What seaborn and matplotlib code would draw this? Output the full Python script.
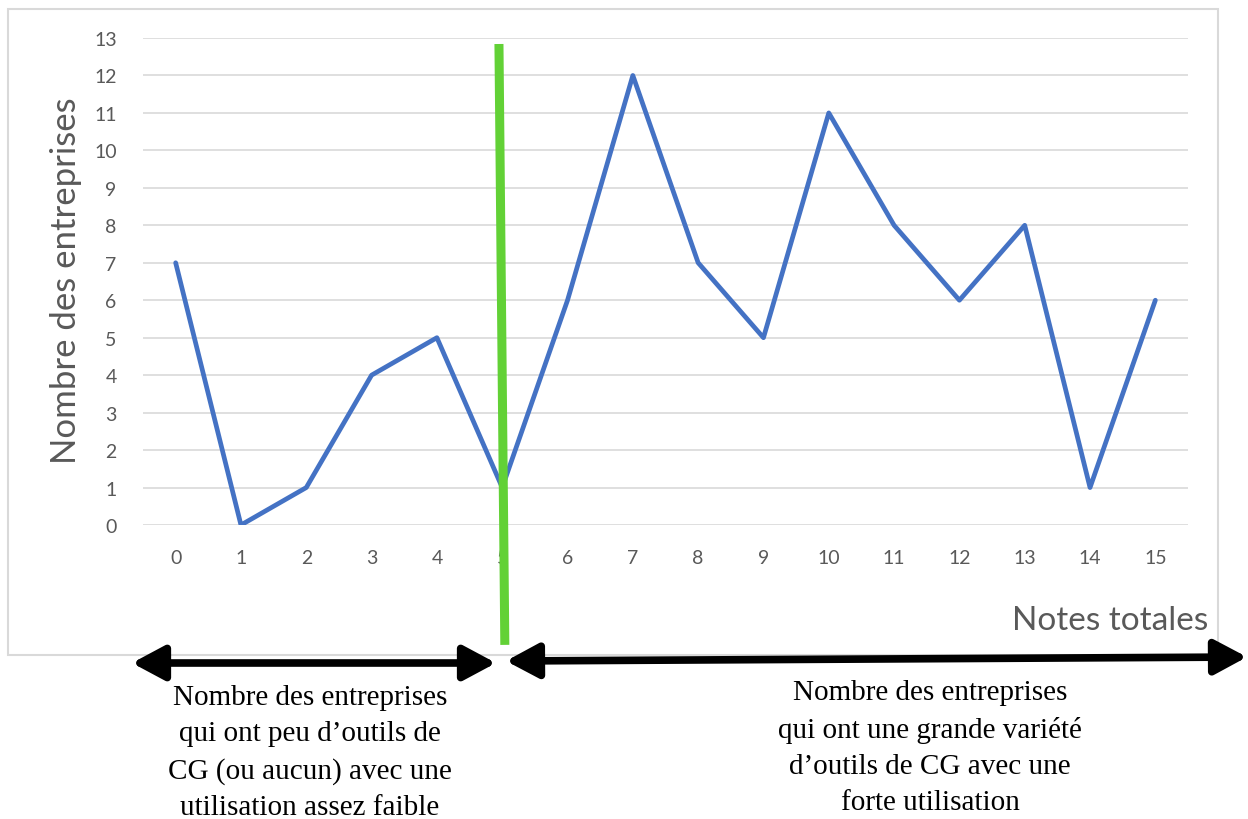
import numpy as np
import pandas as pd
import matplotlib
matplotlib.use("Agg")
import matplotlib.pyplot as plt
import seaborn as sns
from matplotlib.patches import Rectangle, FancyArrowPatch
from matplotlib.lines import Line2D

# data
notes = list(range(16))
nb_entreprises = [7, 0, 1, 4, 5, 1, 6, 12, 7, 5, 11, 8, 6, 8, 1, 6]
seuil = 5  # separation between the two groups

texte_gauche = "Nombre des entreprises\nqui ont peu d\u2019outils de\nCG (ou aucun) avec une\nutilisation assez faible"
texte_droite = "Nombre des entreprises\nqui ont une grande vari\u00e9t\u00e9\nd\u2019outils de CG avec une\nforte utilisation"

df = pd.DataFrame({"note": notes, "nb": nb_entreprises})

sns.set_theme(style="white")
plt.rcParams['font.family'] = ['Lato', 'DejaVu Sans']

W, H = 1248, 820
fig = plt.figure(figsize=(W / 100, H / 100), dpi=100)
ax = fig.add_axes([143 / W, 1 - 526 / H, 1045 / W, 487 / H])

gray = "#595959"
grid_c = "#D9D9D9"

# chart frame
fig.patches.append(Rectangle((8 / W, 1 - 656 / H), 1210 / W, 646 / H,
                             transform=fig.transFigure, fill=False,
                             edgecolor=grid_c, linewidth=1.5, zorder=0))

sns.lineplot(data=df, x="note", y="nb", ax=ax, color="#4472C4", linewidth=3.4, zorder=3)
for ln in ax.get_lines():
    ln.set_solid_joinstyle("round")
    ln.set_solid_capstyle("round")

ax.set_xlim(-0.5, 15.5)
ax.set_ylim(0, 13)
ax.set_xticks(notes)
ax.set_yticks(range(14))
ax.tick_params(axis="both", length=0, labelsize=14, colors=gray)
ax.tick_params(axis="x", pad=17)
ax.tick_params(axis="y", pad=19)
ax.yaxis.grid(True, color=grid_c, linewidth=1.2)
ax.set_axisbelow(True)
for s in ax.spines.values():
    s.set_visible(False)
ax.set_xlabel("")
ax.set_ylabel("")

fig.text(66 / W, 1 - 281 / H, "Nombre des entreprises", rotation=90,
         ha="center", va="center", fontsize=25, color=gray)
fig.text(1208 / W, 1 - 621 / H, "Notes totales", ha="right", va="center",
         fontsize=24, color=gray)

# green separation line
ax.add_line(Line2D([seuil - 0.05, seuil + 0.04], [12.84, -3.2], color="#62D136",
                   linewidth=6.5, clip_on=False, zorder=4, solid_capstyle="butt"))

# arrows
arrow_kw = dict(arrowstyle="<|-|>,head_length=1.4,head_width=0.75", color="black",
                linewidth=5.5, transform=fig.transFigure, mutation_scale=14,
                shrinkA=0, shrinkB=0)
fig.patches.append(FancyArrowPatch((132 / W, 1 - 664 / H), (496 / W, 1 - 664 / H), **arrow_kw))
fig.patches.append(FancyArrowPatch((506 / W, 1 - 662 / H), (1247 / W, 1 - 658 / H), **arrow_kw))

serif = ['Liberation Serif', 'DejaVu Serif']
fig.text(310 / W, 1 - 753 / H, texte_gauche, ha="center", va="center",
         fontsize=21, family=serif, linespacing=1.52, color="black")
fig.text(930 / W, 1 - 748 / H, texte_droite, ha="center", va="center",
         fontsize=21, family=serif, linespacing=1.52, color="black")

fig.savefig("out.png", dpi=100)
